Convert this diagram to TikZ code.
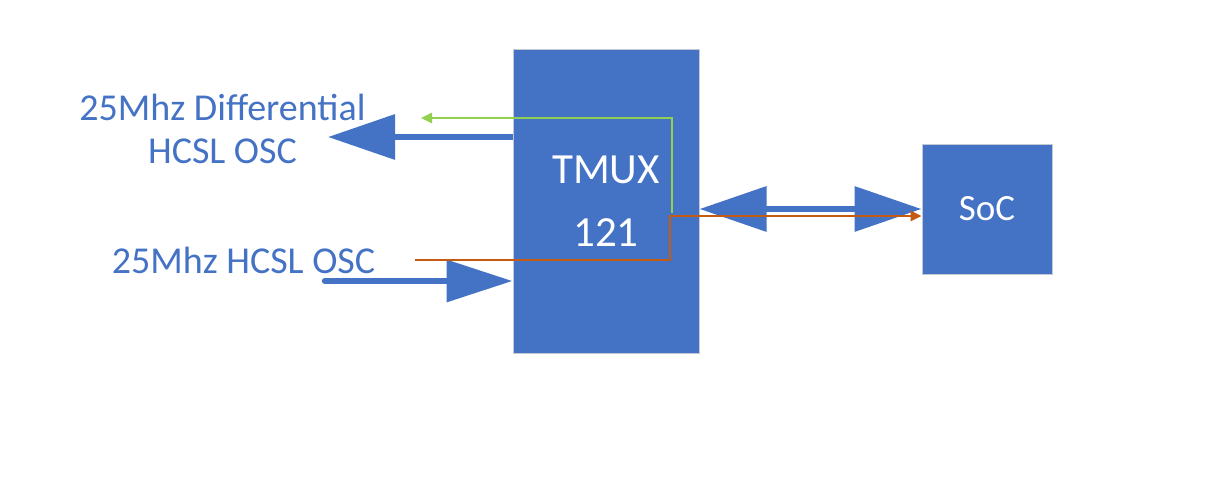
\documentclass[tikz,border=0pt]{standalone}
\usepackage{fontspec}
\setmainfont{Carlito}
\usetikzlibrary{arrows.meta}
\definecolor{boxblue}{HTML}{4472C4}
\definecolor{sigorange}{HTML}{C55A11}
\definecolor{siggreen}{HTML}{92D050}
\definecolor{edgegray}{HTML}{C3C8D2}

\begin{document}
\begin{tikzpicture}[x=1pt,y=-1pt,
  block/.style={rectangle,fill=boxblue,draw=edgegray,line width=1pt,text=white,inner sep=0pt,align=center},
  osc label/.style={text=boxblue,font=\fontsize{38}{43}\selectfont,inner sep=0pt,align=center},
  bus/.style={draw=boxblue,line width=6.5pt},
  big tip/.tip={Triangle[length=67pt,width=44pt]},
  wire/.style={line width=2.5pt,-{Triangle[length=11pt,width=10pt]}}]

  \useasboundingbox (0,0) rectangle (1220,492);

  % blocks
  \node[block,minimum width=186pt,minimum height=303pt,font=\fontsize{43}{63}\selectfont] (tmux) at (606,201.5) {TMUX\\121};
  \node[block,minimum width=130pt,minimum height=130pt,font=\fontsize{37}{44}\selectfont] (soc) at (987,209) {SoC};

  % oscillator labels
  \node[osc label,anchor=base] (difflabel) at (222.5,163) {25Mhz Differential\\HCSL OSC};
  \node[osc label,anchor=base] (hcsllabel) at (243.5,273) {25Mhz HCSL OSC};

  \coordinate (diffout) at (328,137);
  \coordinate (hcslin) at (325,281);
  \coordinate (gtap) at (672,213);
  \coordinate (gend) at (421,118);
  \coordinate (ostart) at (415,260);
  \coordinate (obend) at (670,216);

  % clock buses
  \draw[bus,-{big tip}] (tmux.west |- diffout) -- (diffout);
  \draw[bus,line cap=round,-{Triangle[length=66pt,width=41pt]}] (hcslin) -- (tmux.west |- hcslin);
  \draw[bus,{big tip}-{big tip}] (tmux.east |- soc.west) -- (soc.west);

  % signal paths
  \draw[wire,draw=siggreen] (gtap) -- (gtap |- gend) -- (gend);
  \draw[wire,draw=sigorange] (ostart) -- (obend |- ostart) -- (obend) -- (soc.west |- obend);
\end{tikzpicture}
\end{document}
